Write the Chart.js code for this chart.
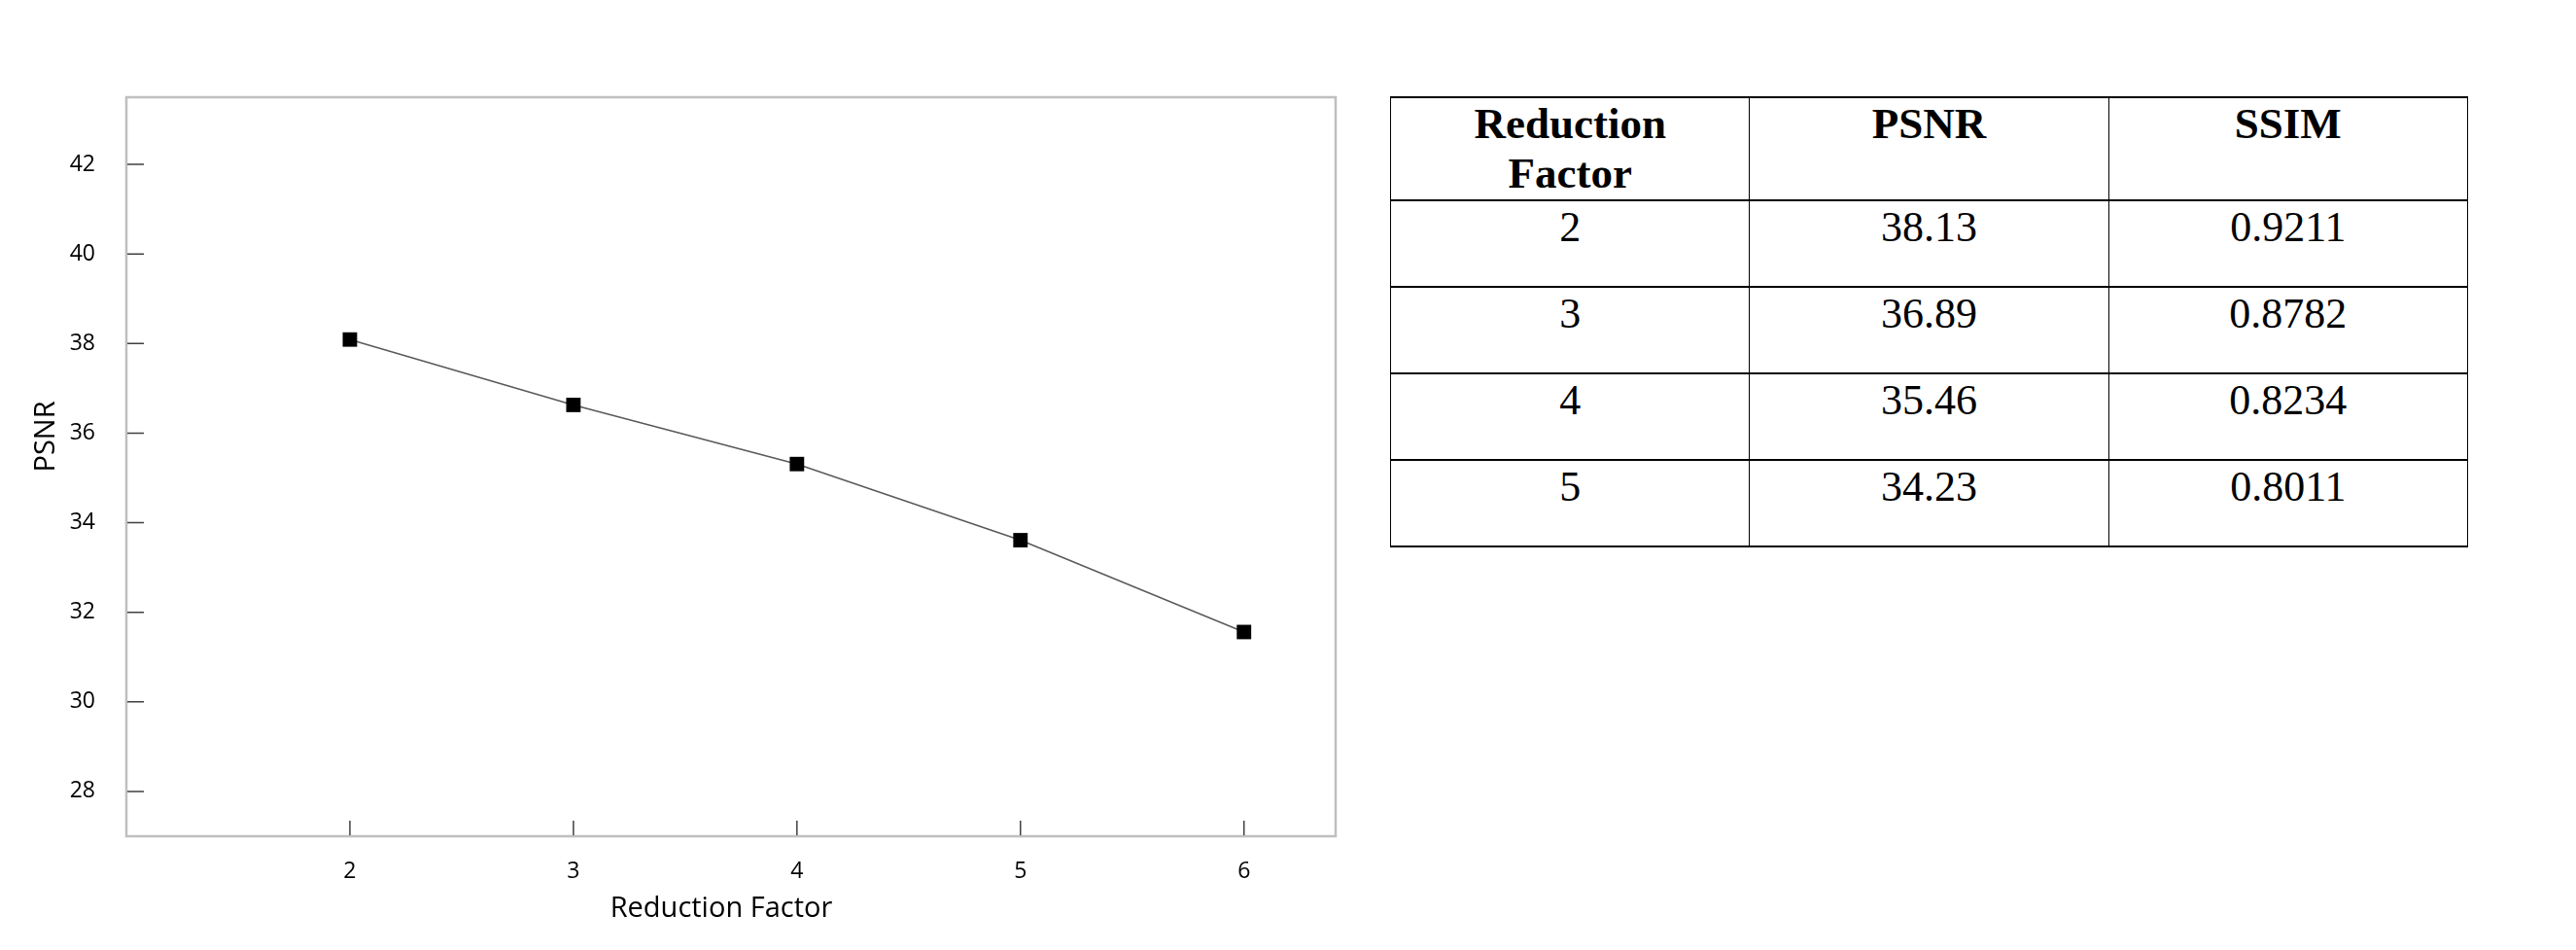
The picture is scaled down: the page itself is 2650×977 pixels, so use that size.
<!DOCTYPE html>
<html>
<head>
<meta charset="utf-8">
<script src="https://cdn.jsdelivr.net/npm/chart.js@4.4.1/dist/chart.umd.min.js"></script>
<style>
  body { margin: 0; background: #fff; width: 2650px; height: 977px; position: relative; overflow: hidden; }
  #chartBox { position: absolute; left: 0; top: 0; width: 1400px; height: 977px; }
  #resultTable {
    position: absolute; left: 1430px; top: 99px; width: 1109px;
    border-collapse: collapse; table-layout: fixed;
    font-family: "Liberation Serif", "Times New Roman", serif; color: #000;
  }
  #resultTable th, #resultTable td {
    border-top: 2px solid #000; border-bottom: 2px solid #000;
    border-left: 1px solid #000; border-right: 1px solid #000;
    text-align: center; vertical-align: top; padding: 1px 0 0 0;
  }
  #resultTable th { font-weight: bold; font-size: 45px; line-height: 51px; height: 103px; }
  #resultTable td { font-size: 44px; line-height: 52px; height: 86px; }
</style>
</head>
<body>
<div id="chartBox"><canvas id="psnrChart"></canvas></div>
<table id="resultTable"></table>
<script>
// chart data
const factors = [2, 3, 4, 5, 6];
const psnrLine = [38.09, 36.63, 35.31, 33.61, 31.56];
const yTickValues = [28, 30, 32, 34, 36, 38, 40, 42];
const xTickValues = [2, 3, 4, 5, 6];

// table data
const tableHeaders = ['Reduction<br>Factor', 'PSNR', 'SSIM'];
const tableFactors = ['2', '3', '4', '5'];
const tablePsnr = ['38.13', '36.89', '35.46', '34.23'];
const tableSsim = ['0.9211', '0.8782', '0.8234', '0.8011'];

let tbl = document.getElementById('resultTable');
let html = '<tr>' + tableHeaders.map(h => '<th>' + h + '</th>').join('') + '</tr>';
for (let i = 0; i < tableFactors.length; i++) {
    html += '<tr><td>' + tableFactors[i] + '</td><td>' + tablePsnr[i] + '</td><td>' + tableSsim[i] + '</td></tr>';
}
tbl.innerHTML = html;

// frame, inward tick marks and axis titles
const framePlugin = {
    id: 'framePlugin',
    afterDraw(chart) {
        const ctx = chart.ctx;
        const a = chart.chartArea;
        const xs = chart.scales.x, ys = chart.scales.y;
        ctx.save();
        ctx.strokeStyle = '#bfbfbf';
        ctx.lineWidth = 2.5;
        ctx.strokeRect(a.left, a.top, a.right - a.left, a.bottom - a.top);

        ctx.strokeStyle = '#404040';
        ctx.lineWidth = 1.5;
        ctx.beginPath();
        yTickValues.forEach(v => {
            let y = ys.getPixelForValue(v);
            ctx.moveTo(a.left + 1, y);
            ctx.lineTo(a.left + 18, y);
        });
        xTickValues.forEach(v => {
            let x = xs.getPixelForValue(v);
            ctx.moveTo(x, a.bottom - 1);
            ctx.lineTo(x, a.bottom - 16);
        });
        ctx.stroke();

        ctx.fillStyle = '#000';
        ctx.font = '29px "Open Sans"';
        ctx.textAlign = 'center';
        ctx.textBaseline = 'alphabetic';
        ctx.fillText('Reduction Factor', (a.left + a.right) / 2 - 10, a.bottom + 83);

        ctx.translate(48, (a.top + a.bottom) / 2 - 31);
        ctx.rotate(-Math.PI / 2);
        ctx.textBaseline = 'middle';
        ctx.fillText('PSNR', 0, 0);
        ctx.restore();
    }
};

let psnrCtx = document.getElementById('psnrChart');
window.psnrChart = new Chart(psnrCtx, {
    type: 'line',
    data: {
        datasets: [
        {
            data: factors.map((f, i) => ({x: f, y: psnrLine[i]})),
            borderColor: '#595959',
            borderWidth: 1.5,
            backgroundColor: '#000',
            pointStyle: 'rect',
            pointRadius: 10.5,
            pointBorderWidth: 0,
            pointBackgroundColor: '#000',
            tension: 0,
            clip: false
        }
        ]
    },
    options: {
        responsive: true,
        maintainAspectRatio: false,
        animation: false,
        layout: {
            padding: {top: 100, right: 26, left: 0, bottom: 0}
        },
        plugins: {
            legend: {display: false},
            tooltip: {enabled: false}
        },
        scales: {
            x: {
                type: 'linear',
                min: 1,
                max: 6.41,
                afterBuildTicks: (s) => { s.ticks = xTickValues.map(v => ({value: v})); },
                afterFit: (s) => { s.height = 117; },
                grid: {display: false, drawTicks: false},
                border: {display: false},
                ticks: {
                    color: '#000',
                    padding: 23,
                    maxRotation: 0,
                    font: {family: 'Open Sans', size: 23}
                }
            },
            y: {
                min: 27,
                max: 43.5,
                afterBuildTicks: (s) => { s.ticks = yTickValues.map(v => ({value: v})); },
                afterFit: (s) => { s.width = 130; },
                grid: {display: false, drawTicks: false},
                border: {display: false},
                ticks: {
                    color: '#000',
                    padding: 32,
                    font: {family: 'Open Sans', size: 23}
                }
            }
        }
    },
    plugins: [framePlugin]
});
</script>
</body>
</html>
